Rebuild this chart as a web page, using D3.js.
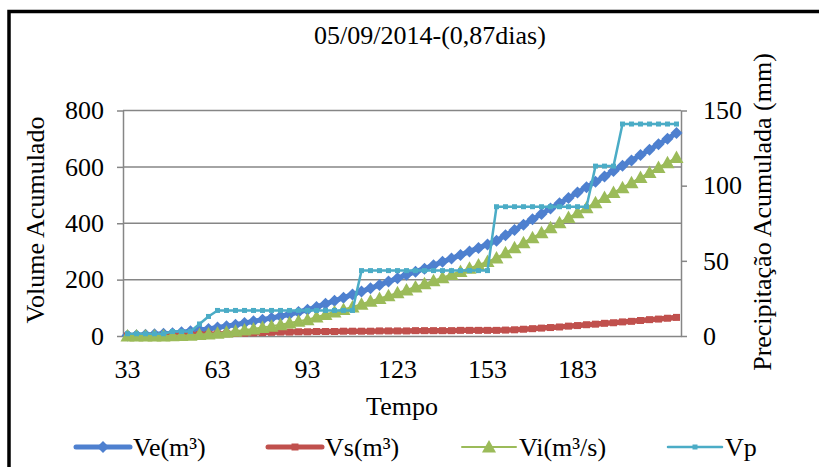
<!DOCTYPE html>
<html lang="pt">
<head>
<meta charset="utf-8">
<title>05/09/2014-(0,87dias)</title>
<script src="https://d3js.org/d3.v7.min.js"></script>
<style>
  body { margin: 0; background: #fff; }
  text { font-family: "Liberation Serif", "Times New Roman", serif; fill: #000; }
</style>
</head>
<body>
<div id="chart"></div>
<script>
// categorias do eixo x (Tempo)
var tempo = [33,36,39,42,45,48,51,54,57,60, 63,66,69,72,75,78,81,84,87,90,
             93,96,99,102,105,108,111,114,117,120, 123,126,129,132,135,138,141,144,147,150,
             153,156,159,162,165,168,171,174,177,180, 183,186,189,192,195,198,201,204,207,210,
             213,216];
var xTickLabels = [33, 63, 93, 123, 153, 183];
var yTicks = [0, 200, 400, 600, 800];
var y2Ticks = [0, 50, 100, 150];

// series
var ve = [2,3,4,6,8,10,13,17,21,25, 30,35,40,46,52,58,64,70,77,85,
          93,103,114,125,136,147,158,169,181,193, 205,217,228,239,251,263,275,287,300,312,
          325,338,357,376,395,414,433,452,471,490, 509,528,547,566,585,604,623,642,661,680,
          700,720];
var vs = [0,0,0,1,1,2,3,4,5,6, 7,8,9,10,11,12,13,14,14,15,
          15,16,16,16,17,17,17,17,18,18, 18,18,19,19,19,19,19,20,20,20,
          20,20,21,22,24,26,28,30,32,35, 37,40,42,45,47,50,52,55,58,60,
          63,66];
var vi = [0,0,0,0,0,1,2,3,5,7, 10,13,17,21,25,30,35,40,46,52,
          58,67,76,85,94,103,113,123,133,143, 153,163,174,185,196,207,218,229,240,252,
          264,277,295,313,331,349,366,384,402,420, 437,455,473,491,509,526,544,562,580,598,
          615,633];
// precipitacao acumulada (eixo secundario, mm)
var vp = [1.5,1.5,1.5,1.5,1.5,3,3,3,8,13, 17,17,17,17,17,17,17,17,17,17,
          17,17,17,17,17,17,43.5,43.5,43.5,43.5, 43.5,43.5,43.5,43.5,43.5,43.5,43.5,43.5,43.5,43.5,
          43.5,86,86,86,86,86,86,86,86,86, 86,86,113,113,113,141,141,141,141,141,
          141,141];

var W = 819, H = 467;
var pLeft = 123, pRight = 681, pTop = 110.5, pBottom = 336;
var grey = "#868686";

var svg = d3.select("#chart").append("svg")
    .attr("width", W)
    .attr("height", H);

// moldura preta
svg.append("rect")
    .attr("x", 9).attr("y", 11.5)
    .attr("width", 900).attr("height", 600)
    .attr("fill", "none")
    .attr("stroke", "#000")
    .attr("stroke-width", 3.5);

var x = d3.scaleBand().domain(tempo).range([pLeft, pRight]).padding(0);
var cx = function(i) { return x(tempo[i]) + x.bandwidth() / 2; };
var y = d3.scaleLinear().domain([0, 800]).range([pBottom, pTop]);
var y2 = d3.scaleLinear().domain([0, 150]).range([pBottom, pTop]);

// grade
svg.append("g").selectAll("line")
  .data(yTicks.slice(1))
  .enter().append("line")
    .attr("x1", pLeft).attr("x2", pRight)
    .attr("y1", function(d) { return y(d); })
    .attr("y2", function(d) { return y(d); })
    .attr("stroke", grey)
    .attr("stroke-width", 1.5);

function styleAxis(g) {
  g.select(".domain").attr("stroke", grey).attr("stroke-width", 1.5);
  g.selectAll(".tick line").attr("stroke", grey).attr("stroke-width", 1.5);
  g.selectAll("text").style("font-size", "26px").attr("fill", "#000")
    .style("font-family", '"Liberation Serif", "Times New Roman", serif');
}

svg.append("g")
  .attr("transform", "translate(" + pLeft + ",0)")
  .call(d3.axisLeft(y).tickValues(yTicks).tickSize(6).tickSizeOuter(0).tickPadding(13))
  .call(styleAxis);

svg.append("g")
  .attr("transform", "translate(" + pRight + ",0)")
  .call(d3.axisRight(y2).tickValues(y2Ticks).tickSize(6).tickSizeOuter(0).tickPadding(16))
  .call(styleAxis);

svg.append("g")
  .attr("transform", "translate(0," + pBottom + ")")
  .call(d3.axisBottom(x).tickValues(xTickLabels).tickSize(0).tickSizeOuter(0).tickPadding(24))
  .call(styleAxis);

// marcadores
var diamond = "M0,-6L6,0L0,6L-6,0Z";
var square = "M-3.5,-3.5H3.5V3.5H-3.5Z";
var triangle = "M0,-7L7,5.5L-7,5.5Z";
var small = "M-2.5,-2.5H2.5V2.5H-2.5Z";

function drawSeries(vals, scale, color, lw, marker, mfill) {
  svg.append("path")
    .datum(vals)
    .attr("fill", "none")
    .attr("stroke", color)
    .attr("stroke-width", lw)
    .attr("stroke-linejoin", "round")
    .attr("d", d3.line()
      .x(function(d, i) { return cx(i); })
      .y(function(d) { return scale(d); }));
  svg.append("g").selectAll("path")
    .data(vals)
    .enter().append("path")
      .attr("d", marker)
      .attr("transform", function(d, i) { return "translate(" + cx(i) + "," + scale(d) + ")"; })
      .attr("fill", mfill);
}

drawSeries(ve, y, "#4E80CF", 5, diamond, "#4E80CF");
drawSeries(vs, y, "#C0504D", 5.5, square, "#C0504D");
drawSeries(vi, y, "#9BBB59", 2, triangle, "#9BBB59");
drawSeries(vp, y2, "#4BACC6", 2.5, small, "#4BACC6");

// titulos
svg.append("text")
  .attr("x", 430).attr("y", 44)
  .attr("text-anchor", "middle")
  .style("font-size", "26px")
  .text("05/09/2014-(0,87dias)");

svg.append("text")
  .attr("transform", "translate(44,220) rotate(-90)")
  .attr("text-anchor", "middle")
  .style("font-size", "26px")
  .text("Volume Acumulado");

svg.append("text")
  .attr("transform", "translate(771,212) rotate(-90)")
  .attr("text-anchor", "middle")
  .style("font-size", "26px")
  .text("Precipitação Acumulada (mm)");

svg.append("text")
  .attr("x", (pLeft + pRight) / 2).attr("y", 415)
  .attr("text-anchor", "middle")
  .style("font-size", "26px")
  .text("Tempo");

// legenda
var legend = [
  {name: "Ve(m³)", color: "#4E80CF", lw: 5, marker: diamond, x: 76},
  {name: "Vs(m³)", color: "#C0504D", lw: 5, marker: square, x: 268},
  {name: "Vi(m³/s)", color: "#9BBB59", lw: 2, marker: triangle, x: 462},
  {name: "Vp", color: "#4BACC6", lw: 2.5, marker: small, x: 668}
];
var lg = svg.append("g").selectAll("g")
  .data(legend)
  .enter().append("g")
    .attr("transform", function(d) { return "translate(" + d.x + ",447)"; });
lg.append("line")
  .attr("x1", 0).attr("x2", 54)
  .attr("stroke", function(d) { return d.color; })
  .attr("stroke-width", function(d) { return d.lw; })
  .attr("stroke-linecap", "round");
lg.append("path")
  .attr("d", function(d) { return d.marker; })
  .attr("transform", "translate(27,0)")
  .attr("fill", function(d) { return d.color; });
lg.append("text")
  .attr("x", 57).attr("y", 9)
  .style("font-size", "26px")
  .text(function(d) { return d.name; });
</script>
</body>
</html>
